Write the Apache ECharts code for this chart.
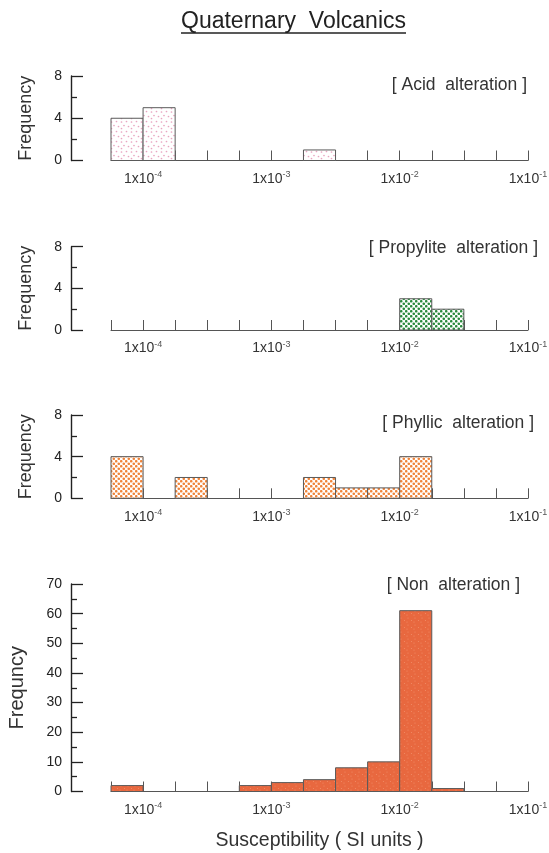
<!DOCTYPE html>
<html>
<head>
<meta charset="utf-8">
<script src="https://cdn.jsdelivr.net/npm/echarts@6/dist/echarts.min.js"></script>
<style>
html,body{margin:0;padding:0;background:#fff;}
#chart{width:549px;height:853px;}
</style>
</head>
<body>
<div id="chart"></div>
<script>
// ---- data (bins are quarter-decades; values are log10 of susceptibility) ----
const binLow = [-4.25, -4, -3.75, -3.5, -3.25, -3, -2.75, -2.5, -2.25, -2, -1.75, -1.5, -1.25];
const binWidth = 0.25;
const acidCounts      = [4, 5, 0, 0, 0, 0, 1, 0, 0, 0, 0, 0, 0];
const propyliteCounts = [0, 0, 0, 0, 0, 0, 0, 0, 0, 3, 2, 0, 0];
const phyllicCounts   = [4, 0, 2, 0, 0, 0, 2, 1, 1, 4, 0, 0, 0];
const nonCounts       = [2, 0, 0, 0, 2, 3, 4, 8, 10, 61, 1, 0, 0];
const panelLabels = ['[ Acid  alteration ]', '[ Propylite  alteration ]', '[ Phyllic  alteration ]', '[ Non  alteration ]'];
const yNames = ['Frequency', 'Frequency', 'Frequency', 'Frequncy'];
const yMaxes = [8, 8, 8, 70];
const yIntervals = [4, 4, 4, 10];
const xMin = -4.25, xMax = -1;
const titleText = 'Quaternary  Volcanics';
const xTitle = 'Susceptibility ( SI units )';

// ---- patterns ----
function dotTile(size, bg, dot, pts, r) {
  const c = document.createElement('canvas');
  c.width = size; c.height = size;
  const g = c.getContext('2d');
  g.fillStyle = bg; g.fillRect(0, 0, size, size);
  g.fillStyle = dot;
  pts.forEach(p => { g.beginPath(); g.arc(p[0], p[1], r, 0, Math.PI * 2); g.fill(); });
  return { image: c, repeat: 'repeat' };
}
const patterns = [
  dotTile(10, '#ffffff', '#e8a4c0', [[1.5,2],[6.5,1.5],[4,5.5],[8.5,6.5],[1.5,8.5]], 0.85),
  dotTile(5, '#ffffff', '#2a8a3c', [[1.25,1.25],[3.75,3.75]], 1.3),
  dotTile(5, '#ffffff', '#f0843a', [[1.25,1.25],[3.75,3.75]], 1.3),
  dotTile(7, '#e8683f', '#f08d68', [[2,2],[5.5,4.5],[1,6]], 0.6)
];
const allCounts = [acidCounts, propyliteCounts, phyllicCounts, nonCounts];

// ---- layout ----
const gridTops = [76, 246.7, 415, 584];
const gridHeights = [84.5, 83.3, 83.3, 207.5];
const labelPos = [[527, 85], [538, 248], [534, 423], [520, 585]];

const grids = [], xAxes = [], yAxes = [], series = [], graphics = [];
for (let i = 0; i < 4; i++) {
  grids.push({ left: 111, right: 21, top: gridTops[i], height: gridHeights[i], outerBoundsMode: 'none', containLabel: false });
  xAxes.push({
    type: 'value', gridIndex: i, min: xMin, max: xMax, interval: 0.25,
    axisLine: { show: true, onZero: false, lineStyle: { color: '#555', width: 1 } },
    axisTick: { show: true, inside: true, length: 10, lineStyle: { color: '#555', width: 1 } },
    splitLine: { show: false },
    axisLabel: {
      show: true, margin: 10, color: '#333',
      showMinLabel: true, showMaxLabel: true,
      formatter: v => (Math.abs(v - Math.round(v)) < 1e-9 ? '{a|1x10}{b|' + Math.round(v) + '}' : ''),
      rich: {
        a: { fontSize: 14, fontFamily: 'Liberation Sans', color: '#333', lineHeight: 17 },
        b: { fontSize: 9, fontFamily: 'Liberation Sans', color: '#555', verticalAlign: 'top' }
      }
    },
    name: i === 3 ? xTitle : '',
    nameLocation: 'middle', nameGap: 39,
    nameTextStyle: { fontSize: 19.5, fontFamily: 'Liberation Sans', color: '#333' }
  });
  yAxes.push({
    type: 'value', gridIndex: i, min: 0, max: yMaxes[i], interval: yIntervals[i],
    position: 'left', offset: 40,
    axisLine: { show: true, lineStyle: { color: '#222', width: 1.4 } },
    axisTick: { show: true, inside: true, length: 12, lineStyle: { color: '#222', width: 1.3 } },
    minorTick: { show: true, splitNumber: 2, length: 6, lineStyle: { color: '#222', width: 1.3 } },
    splitLine: { show: false }, minorSplitLine: { show: false },
    axisLabel: { show: true, margin: 9, fontSize: 14, fontFamily: 'Liberation Sans', color: '#222' },
    name: yNames[i], nameLocation: 'middle', nameRotate: 90, nameGap: i === 3 ? 44 : 36,
    nameTextStyle: { fontSize: i === 3 ? 20 : 18, fontFamily: 'Liberation Sans', color: '#333' }
  });
  const data = [];
  binLow.forEach((lo, k) => { if (allCounts[i][k] > 0) data.push([lo, lo + binWidth, allCounts[i][k]]); });
  const pat = patterns[i];
  series.push({
    type: 'custom', xAxisIndex: i, yAxisIndex: i,
    encode: { x: [0, 1], y: 2 },
    data: data,
    renderItem: function (params, api) {
      const p0 = api.coord([api.value(0), 0]);
      const p1 = api.coord([api.value(1), api.value(2)]);
      return {
        type: 'rect',
        shape: { x: p0[0], y: p1[1], width: p1[0] - p0[0], height: p0[1] - p1[1] },
        style: { fill: pat, stroke: '#5a5a5a', lineWidth: 1 }
      };
    }
  });
  graphics.push({
    type: 'text', x: labelPos[i][0], y: labelPos[i][1],
    style: { text: panelLabels[i], fontSize: 17.5, fontFamily: 'Liberation Sans', fill: '#333', align: 'right', verticalAlign: 'middle' }
  });
}

// title with underline
const titleFont = '23px "Liberation Sans"';
const mctx = document.createElement('canvas').getContext('2d');
mctx.font = titleFont;
const tw = mctx.measureText(titleText).width;
const tcx = 293.5;
graphics.push({
  type: 'text', x: tcx, y: 22,
  style: { text: titleText, fontSize: 23, fontFamily: 'Liberation Sans', fill: '#222', align: 'center', verticalAlign: 'middle' }
});
graphics.push({
  type: 'line', shape: { x1: tcx - tw / 2, y1: 33, x2: tcx + tw / 2, y2: 33 },
  style: { stroke: '#222', lineWidth: 1.5 }
});

const chart = echarts.init(document.getElementById('chart'), null, { renderer: 'canvas' });
chart.setOption({
  backgroundColor: '#ffffff',
  animation: false,
  grid: grids, xAxis: xAxes, yAxis: yAxes, series: series, graphic: graphics
});
</script>
</body>
</html>
